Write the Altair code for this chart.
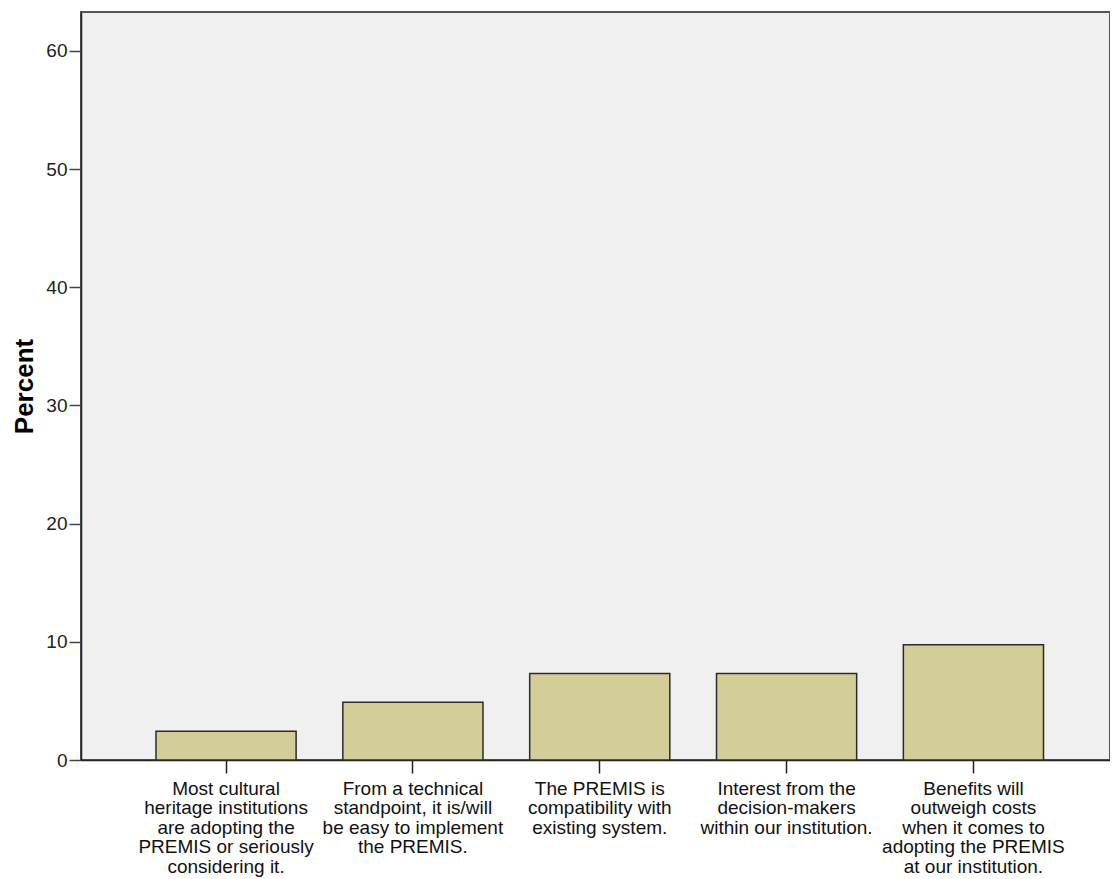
import altair as alt
import pandas as pd

categories = [
    "Most cultural|heritage institutions|are adopting the|PREMIS or seriously|considering it.",
    "From a technical|standpoint, it is/will|be easy to implement|the PREMIS.",
    "The PREMIS is|compatibility with|existing system.",
    "Interest from the|decision-makers|within our institution.",
    "Benefits will|outweigh costs|when it comes to|adopting the PREMIS|at our institution.",
]
percent = [2.44, 4.88, 7.32, 7.32, 9.76]
y_ticks = [0, 10, 20, 30, 40, 50, 60]

df = pd.DataFrame({"category": categories, "percent": percent})

FONT = "Liberation Sans"

chart = alt.Chart(df).mark_bar(
    fill="#d3ce97", stroke="#2b2b2b", strokeWidth=1.5
).encode(
    x=alt.X(
        "category:N",
        sort=None,
        title=None,
        scale=alt.Scale(paddingInner=0.25, paddingOuter=0.3786, align=0.53),
        axis=alt.Axis(
            labelExpr="split(datum.label, '|')",
            labelAngle=0,
            labelAlign="center",
            labelBaseline="top",
            labelFont=FONT,
            labelFontSize=19,
            labelLineHeight=19.6,
            labelColor="#111",
            labelPadding=6,
            tickSize=13,
            tickColor="#222",
            tickWidth=1.5,
            domainColor="#222",
            domainWidth=1.5,
            labelLimit=300,
        ),
    ),
    y=alt.Y(
        "percent:Q",
        title="Percent",
        scale=alt.Scale(domain=[0, 63.3], nice=False, zero=True),
        axis=alt.Axis(
            values=y_ticks,
            grid=False,
            labelFont=FONT,
            labelFontSize=19,
            labelColor="#222",
            labelPadding=2,
            tickSize=12,
            tickColor="#444",
            tickWidth=1.5,
            domainColor="#222",
            domainWidth=1.5,
            titleFont=FONT,
            titleFontSize=26,
            titleFontWeight="bold",
            titleColor="#000",
            titlePadding=8,
        ),
    ),
).properties(
    width=1029,
    height=748,
    autosize=alt.AutoSizeParams(type="none"),
    padding={"left": 73, "top": 4, "right": 0, "bottom": 117},
    background="white",
).configure_view(
    fill="#f0f0f0", stroke="#555", strokeWidth=2
)

chart.save("out.html", embed_options={"renderer": "svg", "actions": False})
